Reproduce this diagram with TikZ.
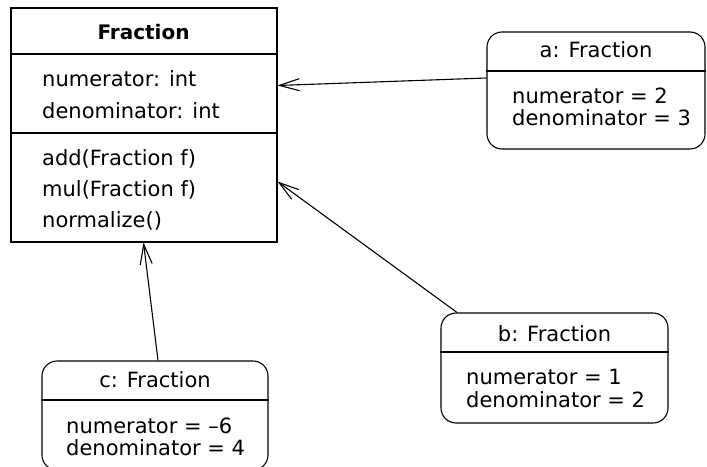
\documentclass[tikz,border=0pt]{standalone}
\usepackage{fontspec}
\setmainfont{DejaVu Sans}
\usetikzlibrary{arrows.meta}

\tikzset{
  classbox/.style={draw, line width=2pt, rectangle, inner sep=0pt},
  objbox/.style={draw, line width=1.1pt, rectangle, rounded corners=15pt, inner sep=0pt},
  classname/.style={anchor=base, inner sep=0pt, font=\fontsize{20}{22}\selectfont\bfseries},
  objname/.style={anchor=base, inner sep=0pt, font=\fontsize{21}{22}\selectfont},
  member/.style={anchor=base west, inner sep=0pt, font=\fontsize{21}{22}\selectfont},
  sep/.style={line width=1.1pt},
  assoc/.style={->, line width=1.1pt},
}

\begin{document}
\begin{tikzpicture}[x=1pt, y=-1pt, >={Straight Barb[length=20pt,width=12pt]}]
  \useasboundingbox (0,0) rectangle (707,466);

  % the class
  \node [classbox, minimum width=266pt, minimum height=234pt] (frac) at (143.5,124.5) {};
  \draw [sep] (frac.west |- 0,54) -- (frac.east |- 0,54);
  \draw [sep] (frac.west |- 0,133) -- (frac.east |- 0,133);

  \node [classname] (fracname) at (143.5,39) {Fraction};
  \node [member] (fracnum) at (42,86) {numerator: int};
  \node [member] (fracden) at (42,118) {denominator: int};
  \node [member] (fracadd) at (42,165) {add(Fraction f)};
  \node [member] (fracmul) at (42,196) {mul(Fraction f)};
  \node [member] (fracnorm) at (42,227) {normalize()};

  % object a
  \node [objbox, minimum width=218pt, minimum height=117pt] (aobj) at (596,90.5) {};
  \draw [sep] (aobj.west |- 0,71) -- (aobj.east |- 0,71);
  \node [objname] (aname) at (596,57.5) {a: Fraction};
  \node [member] (anum) at (512,103) {numerator = 2};
  \node [member] (aden) at (512,125) {denominator = 3};

  % object b
  \node [objbox, minimum width=227pt, minimum height=110pt] (bobj) at (554.5,368) {};
  \draw [sep] (bobj.west |- 0,352) -- (bobj.east |- 0,352);
  \node [objname] (bname) at (554.5,341.5) {b: Fraction};
  \node [member] (bnum) at (466,384) {numerator = 1};
  \node [member] (bden) at (466,407) {denominator = 2};

  % object c
  \node [objbox, minimum width=226pt, minimum height=109pt] (cobj) at (155,415.5) {};
  \draw [sep] (cobj.west |- 0,400) -- (cobj.east |- 0,400);
  \node [objname] (cname) at (155,387) {c: Fraction};
  \node [member] (cnum) at (66,433) {numerator = –6};
  \node [member] (cden) at (66,455) {denominator = 4};

  % links
  \draw [assoc] ([yshift=12.5pt]aobj.west) -- ([yshift=39pt]frac.east);
  \draw [assoc] ([xshift=-97.5pt]bobj.north) -- ([yshift=-57pt]frac.east);
  \draw [assoc] ([xshift=3pt]cobj.north) -- (frac.south);
\end{tikzpicture}
\end{document}
